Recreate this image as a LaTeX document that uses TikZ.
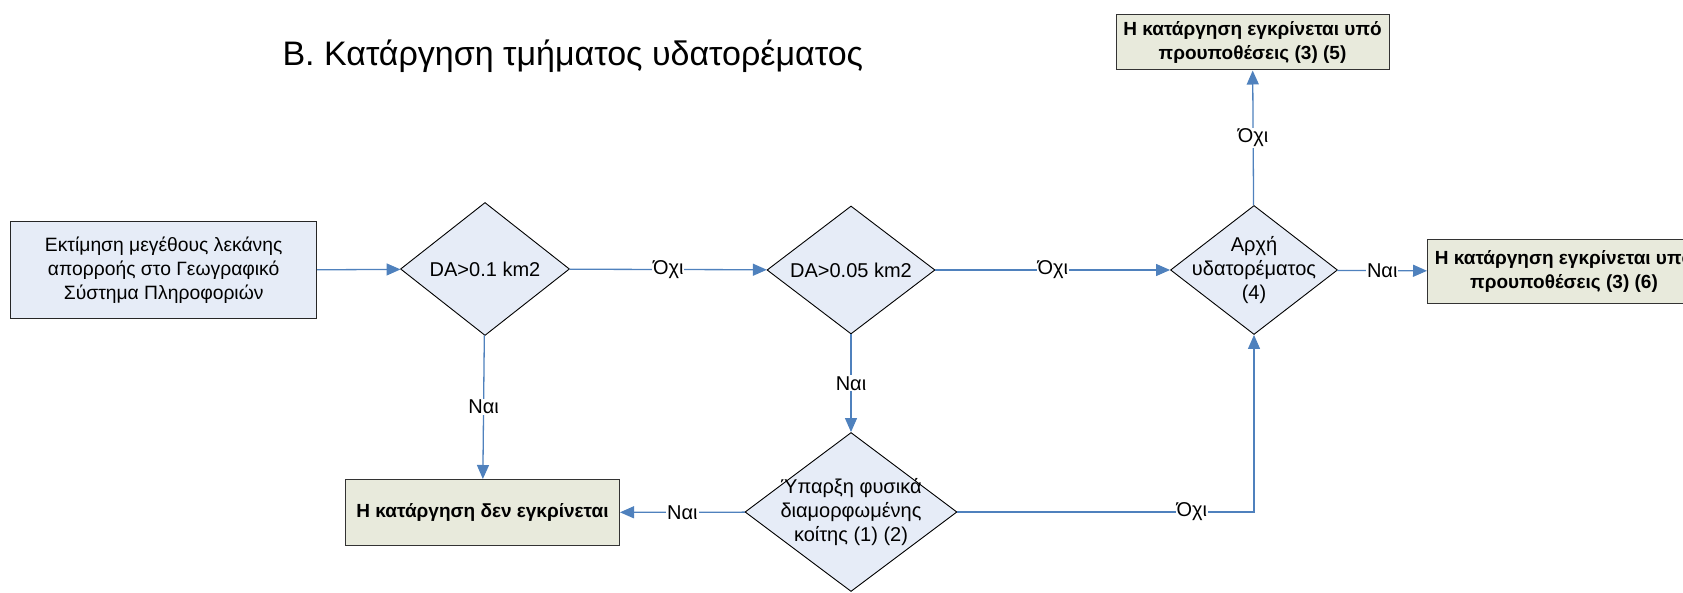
\documentclass[tikz,border=0pt]{standalone}
\usepackage{fontspec}
\setmainfont{Liberation Sans}
\usetikzlibrary{shapes.geometric,arrows.meta}
\definecolor{qfill}{HTML}{E6ECF7}
\definecolor{rfill}{HTML}{E8EADC}
\definecolor{flow}{HTML}{4F81BD}
\begin{document}
\begin{tikzpicture}[x=1pt, y=-1pt,
  txt/.style={font=\fontsize{20}{24}\selectfont},
  boxtxt/.style={font=\fontsize{19.3}{24}\selectfont},
  question/.style={diamond, draw=black, line width=0.9pt, fill=qfill, inner sep=0pt,
    label={[txt, align=center]center:#1}},
  process/.style={rectangle, draw=black!85, line width=1pt, fill=qfill, boxtxt, align=center},
  result/.style={rectangle, draw=black!80, line width=1pt, fill=rfill, align=center,
    font=\bfseries\fontsize{19}{24.5}\selectfont},
  flowline/.style={draw=flow, line width=1.3pt, -{Triangle[length=14pt,width=12pt]}},
  tag/.style={txt, fill=white, inner sep=1pt}]
\useasboundingbox (0,0) rectangle (1683,593);

% title
\node[anchor=west, font=\fontsize{34}{40}\selectfont] (title) at (279,56)
  {Β. Κατάργηση τμήματος υδατορέματος};

% process box and decisions
\node[process, minimum width=306pt, minimum height=97pt] (est) at (163.7,270.5)
  {Εκτίμηση μεγέθους λεκάνης\\απορροής στο Γεωγραφικό\\Σύστημα Πληροφοριών};
\node[question={DA>0.1 km2}, minimum width=169pt, minimum height=133pt] (d1) at (485,269) {};
\node[question={DA>0.05 km2}, minimum width=168pt, minimum height=128pt] (d2) at (851,270) {};
\node[question={Αρχή\\υδατορέματος\\(4)}, minimum width=167pt, minimum height=129pt] (d3) at (1254,270) {};
\node[question={Ύπαρξη φυσικά\\διαμορφωμένης\\κοίτης (1) (2)}, minimum width=212pt, minimum height=159pt] (d4) at (851,512) {};

% outcomes
\node[result, minimum width=273pt, minimum height=55pt] (top) at (1252.5,42.5)
  {Η κατάργηση εγκρίνεται υπό\\προυποθέσεις (3) (5)};
\node[result, minimum width=273pt, minimum height=64pt] (right) at (1564,271.5)
  {Η κατάργηση εγκρίνεται υπό\\προυποθέσεις (3) (6)};
\node[result, minimum width=274pt, minimum height=66pt] (deny) at (482.5,512.5)
  {Η κατάργηση δεν εγκρίνεται};

% connectors
\draw[flowline] (est) -- (d1);
\draw[flowline] (d1) -- node[tag] {Όχι} (d2);
\draw[flowline] (d2) -- node[tag] {Όχι} (d3);
\draw[flowline] (d3) -- node[tag] {Ναι} (right);
\draw[flowline] (d3) -- node[tag] {Όχι} (top);
\draw[flowline] (d1) -- node[tag] {Ναι} (deny);
\draw[flowline] (d2) -- node[tag] {Ναι} (d4);
\draw[flowline] (d4) -- node[tag] {Ναι} (deny);
\draw[flowline] (d4) -| node[tag, pos=0.395] {Όχι} (d3);
\end{tikzpicture}
\end{document}
